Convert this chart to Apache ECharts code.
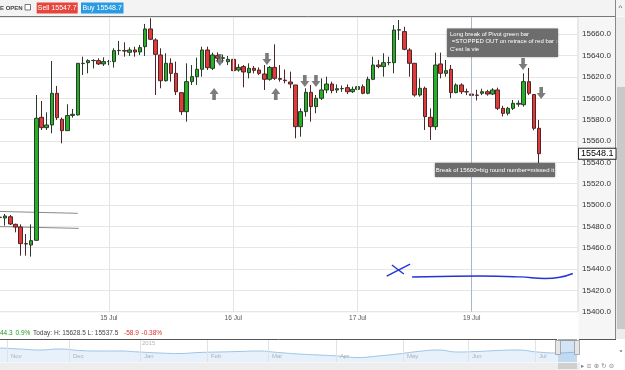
<!DOCTYPE html>
<html><head><meta charset="utf-8">
<script src="https://cdn.jsdelivr.net/npm/echarts/dist/echarts.min.js"></script>
<style>html,body{margin:0;padding:0;background:#fff}#c{width:625px;height:370px}</style>
</head><body><div id="c"></div><script>
// hourly candles (index 0..104)
const open = [15488.5,15487.8,15489.0,15481.9,15479.4,15463.8,15462.5,15466.9,15582.2,15572.5,
15575.0,15604.7,15580.3,15569.7,15584.0,15584.4,15632.5,15633.4,15635.3,15635.3,
15632.2,15634.4,15634.4,15644.7,15644.7,15643.1,15645.3,15643.4,15648.4,15665.0,
15654.7,15640.6,15616.5,15632.8,15623.4,15605.3,15587.5,15615.6,15620.3,15627.2,
15645.3,15628.1,15640.0,15637.5,15634.3,15636.5,15626.5,15629.7,15624.0,15628.1,
15626.5,15622.8,15617.8,15629.0,15618.5,15617.0,15615.3,15612.5,15573.4,15587.5,
15605.6,15592.2,15600.0,15607.8,15613.4,15607.8,15609.0,15610.0,15606.2,15608.4,
15610.9,15604.7,15617.8,15631.2,15629.7,15633.4,15633.4,15664.0,15662.5,15645.3,
15632.8,15603.1,15609.4,15582.2,15573.4,15632.2,15623.4,15627.2,15605.3,15612.5,
15606.2,15604.0,15603.0,15604.7,15606.2,15604.0,15607.8,15590.6,15585.9,15590.6,
15594.5,15594.0,15615.6,15603.5,15571.9];
const close = [15488.4,15489.7,15482.2,15479.4,15463.8,15463.5,15466.6,15581.3,15572.5,15575.0,
15604.7,15581.9,15569.7,15583.8,15585.0,15632.8,15632.8,15635.3,15635.5,15632.2,
15634.4,15634.6,15644.7,15644.9,15644.3,15645.3,15643.4,15647.5,15665.0,15655.3,
15641.2,15616.5,15632.8,15623.4,15606.2,15587.5,15615.6,15620.3,15627.2,15645.3,
15628.7,15640.6,15637.5,15638.0,15636.5,15625.9,15629.0,15624.7,15628.1,15626.2,
15623.4,15617.8,15629.0,15618.7,15617.8,15616.5,15613.4,15573.4,15587.5,15605.6,
15592.2,15600.0,15607.8,15613.4,15607.2,15609.0,15609.2,15606.2,15608.4,15610.9,
15604.7,15617.8,15631.2,15629.7,15633.4,15633.6,15664.0,15664.2,15645.9,15632.8,
15603.1,15609.4,15582.8,15573.4,15631.2,15623.4,15625.9,15605.3,15612.5,15606.2,
15606.0,15602.8,15602.8,15606.2,15604.0,15607.8,15590.6,15585.9,15590.6,15595.3,
15595.3,15615.6,15604.7,15571.9,15548.1];
const low = [15486.5,15480.6,15481.3,15474.4,15452.5,15452.5,15451.6,15466.5,15570.3,15570.3,
15567.2,15579.7,15557.8,15569.7,15581.9,15584.0,15621.9,15623.4,15628.0,15631.2,
15630.3,15631.0,15628.8,15640.6,15639.0,15639.7,15639.0,15640.6,15639.7,15654.7,
15603.1,15609.4,15615.6,15615.6,15603.1,15584.4,15578.1,15612.5,15612.5,15620.3,
15626.5,15626.5,15634.0,15633.5,15631.2,15621.8,15625.0,15610.3,15618.7,15623.4,
15621.8,15607.8,15616.5,15617.2,15615.6,15614.0,15609.4,15562.5,15564.0,15582.8,
15578.1,15586.0,15598.4,15604.7,15604.7,15605.0,15606.0,15604.0,15605.0,15606.0,
15603.8,15603.8,15617.0,15628.1,15620.3,15631.0,15623.4,15654.7,15645.0,15620.3,
15601.5,15601.5,15570.3,15561.0,15570.3,15618.7,15620.3,15600.0,15604.7,15604.0,
15603.0,15601.0,15598.0,15603.0,15602.5,15603.0,15589.0,15583.0,15584.0,15589.0,
15592.0,15592.2,15603.0,15570.0,15537.5];
const high = [15490.0,15491.6,15490.6,15482.5,15481.9,15472.8,15481.9,15603.1,15597.5,15586.9,
15635.0,15611.6,15581.9,15594.4,15590.0,15633.0,15639.0,15636.6,15636.6,15637.5,
15638.4,15636.0,15646.9,15653.8,15652.5,15647.8,15648.4,15650.0,15669.7,15675.0,
15656.2,15646.9,15642.2,15637.5,15634.4,15605.3,15632.8,15631.2,15638.1,15648.4,
15648.4,15642.8,15643.0,15641.0,15639.7,15638.1,15632.0,15631.2,15632.8,15630.3,
15629.0,15631.2,15630.3,15650.6,15631.2,15627.0,15625.0,15612.5,15590.6,15609.4,
15612.5,15603.1,15618.7,15620.3,15615.6,15613.0,15612.0,15613.0,15611.0,15613.4,
15613.0,15620.3,15639.0,15636.0,15642.2,15639.0,15668.7,15673.4,15667.0,15647.0,
15633.0,15618.7,15611.0,15590.6,15642.8,15642.8,15635.9,15631.2,15614.0,15614.0,
15609.0,15605.5,15608.0,15609.0,15608.0,15609.5,15610.0,15593.0,15592.0,15598.4,
15598.0,15623.4,15628.5,15604.0,15579.7];
const slotCount = 112;
const dayLabels = ['15 Jul','16 Jul','17 Jul','19 Jul'];
const dayIndex = [21,45,69,91];
const yTickMin = 15400, yTickMax = 15676.2, yTickStep = 20;
const lastPrice = 15548.1;
// annotation arrows [slot, price]
const arrowsDown = [[42.4,15635.9],[51.5,15636.8],[58.8,15616.2],[60.95,15616.2],[100.9,15632.2],[104.4,15605]];
const arrowsUp = [[41.3,15604],[53.2,15604]];
// hand-drawn trend lines [slot, price]
const trend1 = [[-0.5,15494],[15,15492.2]];
const trend2 = [[-0.5,15479.8],[15.2,15478.1]];
const scribbleX1 = [[74.6,15433.4],[79.1,15444.7]];
const scribbleX2 = [[75.6,15443.8],[77.9,15435.3]];
const scribbleLine = [[79.5,15432.5],[84.9,15433.0],[92.6,15433.4],[100.3,15432.6],[105.1,15431.1],[108,15432.3],[110.5,15435.8]];
// navigator sparkline
const navValues = [16000,15900,15800,15900,15750,15700,15700,15600,15500,15450,15550,15600,15650,15700,15550,15400,15300,15200,15050,15200,15400,15650,15800,15600,15650,15750,15800,15600,15500,15600];
const navMonths = ['Nov','Dec','Jan','Feb','Mar','Apr','May','Jun','Jul'];
const navMonthX = [7,69,140,207,268,336,403,468,535];

const cats = Array.from({length: slotCount}, (_, i) => String(i));
const candles = open.map((o, i) => [o, close[i], low[i], high[i]]);
const dayMap = {}; dayIndex.forEach((d, i) => dayMap[d] = dayLabels[i]);
const FF = '"Liberation Sans", Arial, sans-serif';
const downPath = 'path://M3,0 H7 V6 H10 L5,12 L0,6 H3 Z';
const upPath = 'path://M5,0 L10,6 H7 V12 H3 V6 H0 Z';

const chart = echarts.init(document.getElementById('c'), null, {renderer: 'canvas'});
const graphic = [
  {type:'rect', z:-1, shape:{x:0,y:0,width:625,height:16.5}, style:{fill:'#f3f3f3'}},
  {type:'rect', z:-1, shape:{x:578.5,y:17,width:37,height:322}, style:{fill:'#f6f6f6'}},
  {type:'text', x:0, y:8.5, style:{text:'E OPEN', fill:'#444', fontSize:6, fontWeight:'bold', fontFamily:FF, verticalAlign:'middle'}},
  {type:'rect', shape:{x:25,y:4.5,width:5.5,height:5.5}, style:{fill:'#fff', stroke:'#555', lineWidth:0.8}},
  {type:'rect', shape:{x:36.7,y:2.5,width:41,height:11}, style:{fill:'#e5453b'}},
  {type:'text', x:57.2, y:8.3, style:{text:'Sell 15547.7', fill:'#fff', fontSize:7, fontFamily:FF, align:'center', verticalAlign:'middle'}},
  {type:'rect', shape:{x:81,y:2.5,width:42.5,height:11}, style:{fill:'#2b9be1'}},
  {type:'text', x:102.2, y:8.3, style:{text:'Buy 15548.7', fill:'#fff', fontSize:7, fontFamily:FF, align:'center', verticalAlign:'middle'}},
  {type:'line', shape:{x1:0,y1:16.5,x2:615,y2:16.5}, style:{stroke:'#777', lineWidth:1}},
  {type:'line', shape:{x1:615.5,y1:0,x2:615.5,y2:339}, style:{stroke:'#888', lineWidth:1}},
  {type:'rect', shape:{x:616,y:17,width:9,height:322}, style:{fill:'#ececec'}},
  {type:'rect', shape:{x:617,y:87,width:8,height:242}, style:{fill:'#c9c9c9'}},
  {type:'text', x:620.5, y:8, style:{text:'^', fill:'#555', fontSize:8, fontFamily:FF, align:'center', verticalAlign:'middle'}},
  // annotation boxes
  {type:'rect', z:100, shape:{x:447,y:28.5,width:111,height:28.5}, style:{fill:'#6d6d6d', shadowBlur:2, shadowColor:'rgba(0,0,0,0.4)'}},
  {type:'text', z:101, x:450, y:30.5, style:{text:'Long break of Pivot green bar\n =STOPPED OUT on retrace of red bar :-(\nC\'est la vie', fill:'#fff', fontSize:6, lineHeight:7.5, fontFamily:FF, verticalAlign:'top'}},
  {type:'rect', z:100, shape:{x:435,y:163,width:120,height:14}, style:{fill:'#6d6d6d', shadowBlur:2, shadowColor:'rgba(0,0,0,0.4)'}},
  {type:'text', z:101, x:495, y:170, style:{text:'Break of 15600=big round number=missed it', fill:'#fff', fontSize:6, fontFamily:FF, align:'center', verticalAlign:'middle'}},
  // status row
  {type:'text', x:0, y:333, style:{text:'44.3', fill:'#1f9a1f', fontSize:6.5, fontFamily:FF, verticalAlign:'middle'}},
  {type:'text', x:15.5, y:333, style:{text:'0.9%', fill:'#1f9a1f', fontSize:6.5, fontFamily:FF, verticalAlign:'middle'}},
  {type:'text', x:33, y:333, style:{text:'Today: H: 15628.5 L: 15537.5', fill:'#444', fontSize:6.5, fontFamily:FF, verticalAlign:'middle'}},
  {type:'text', x:124, y:333, style:{text:'-58.9', fill:'#d9302c', fontSize:6.5, fontFamily:FF, verticalAlign:'middle'}},
  {type:'text', x:141.5, y:333, style:{text:'-0.38%', fill:'#d9302c', fontSize:6.5, fontFamily:FF, verticalAlign:'middle'}},
  // navigator frame
  {type:'line', shape:{x1:0,y1:339.5,x2:557,y2:339.5}, style:{stroke:'#555', lineWidth:1}},
  {type:'line', shape:{x1:579,y1:339.5,x2:616,y2:339.5}, style:{stroke:'#555', lineWidth:1}},
  {type:'text', x:142, y:343.5, style:{text:'2015', fill:'#b5b5b5', fontSize:6, fontFamily:FF, verticalAlign:'middle'}},
  {type:'rect', z:10, shape:{x:558,y:340,width:19,height:22}, style:{fill:'rgba(110,165,220,0.3)'}},
  {type:'line', z:10, shape:{x1:558,y1:340,x2:577,y2:340}, style:{stroke:'#555', lineWidth:1}},
  {type:'rect', z:11, shape:{x:555.5,y:340.5,width:5,height:14}, style:{fill:'#e6e6e6', stroke:'#999', lineWidth:0.8}},
  {type:'rect', z:11, shape:{x:574.5,y:340.5,width:5,height:14}, style:{fill:'#e6e6e6', stroke:'#999', lineWidth:0.8}},
  {type:'rect', shape:{x:0,y:362.5,width:580,height:7.5}, style:{fill:'#ededed'}},
  {type:'rect', shape:{x:558,y:363,width:19,height:6}, style:{fill:'#cfcfcf'}},
  {type:'text', x:581, y:366, style:{text:'\u25B8 \u2261 \u2295 \u21BB \u2296', fill:'#888', fontSize:6.5, fontFamily:'DejaVu Sans', verticalAlign:'middle'}},
  {type:'text', x:621, y:355, style:{text:'\u02C5', fill:'#444', fontSize:9, fontFamily:'DejaVu Sans', align:'center', verticalAlign:'middle'}}
];
navMonths.forEach((m, i) => {
  graphic.push({type:'line', z:5, shape:{x1:navMonthX[i]+0.5,y1:340,x2:navMonthX[i]+0.5,y2:362}, style:{stroke:'#e2e2e2', lineWidth:1}});
  graphic.push({type:'text', z:5, x:navMonthX[i]+4, y:356.5, style:{text:m, fill:'#b0b0b0', fontSize:6, fontFamily:FF, verticalAlign:'middle'}});
});

const scribbleStyle = {color:'#2233d8', width:1.4};
chart.setOption({
  animation: false,
  backgroundColor: '#ffffff',
  grid: [
    {left:-2.6, right:47, top:17, bottom:58.3, show:true, borderColor:'#d4d4d4', borderWidth:1, containLabel:false, outerBoundsMode:'none'},
    {left:0, right:48, top:340, height:22, containLabel:false, outerBoundsMode:'none'}
  ],
  xAxis: [
    {type:'category', gridIndex:0, data:cats, boundaryGap:true,
     axisLine:{show:false}, axisTick:{show:false}, splitLine:{show:false},
     axisLabel:{interval:0, margin:3, fontSize:6.5, color:'#555', fontFamily:FF, formatter:(v, i) => dayMap[i] || ''}},
    {type:'value', gridIndex:0, min:-0.5, max:slotCount-0.5, show:false},
    {type:'category', gridIndex:1, data:navValues.map((_, i) => String(i)), boundaryGap:false, show:false}
  ],
  yAxis: [
    {type:'value', gridIndex:0, position:'right', min:yTickMin, max:yTickMax, interval:yTickStep,
     axisLine:{show:false}, axisTick:{show:false},
     splitLine:{show:true, lineStyle:{color:'#e6e6e6', width:1}},
     axisLabel:{margin:4, fontSize:8, color:'#333', fontFamily:FF, showMaxLabel:false, formatter:v => v.toFixed(1)}},
    {type:'value', gridIndex:1, min:14600, max:16800, show:false}
  ],
  series: [
    {type:'line', xAxisIndex:1, yAxisIndex:0, data:trend1, symbol:'none', z:1, lineStyle:{color:'#8a8a8a', width:1},
     markLine:{silent:true, symbol:'none', label:{show:false},
       data: dayIndex.map((d, i) => ({xAxis:d, lineStyle:{type:'solid', width:1, color: i===3 ? '#a9b7c7' : '#e3e3e3'}}))}},
    {type:'line', xAxisIndex:1, yAxisIndex:0, data:trend2, symbol:'none', z:1, lineStyle:{color:'#8a8a8a', width:1}},
    {type:'candlestick', xAxisIndex:0, yAxisIndex:0, data:candles, barWidth:4, z:3,
     itemStyle:{color:'#25b025', color0:'#e2393d', borderColor:'#2b3b2b', borderColor0:'#4d2626', borderWidth:1}},
    {type:'line', xAxisIndex:1, yAxisIndex:0, data:[[slotCount-0.5, lastPrice]], symbol:'none', z:20,
     lineStyle:{width:0},
     markPoint:{silent:true, symbol:'rect', symbolSize:[0,0],
       data:[{coord:[slotCount-0.5, lastPrice],
         label:{show:true, position:'right', distance:1, formatter:lastPrice.toFixed(1), color:'#000', fontSize:9, fontFamily:FF,
                backgroundColor:'#fff', borderColor:'#222', borderWidth:1, padding:[1,2,0,2]}}]}},
    {type:'scatter', xAxisIndex:1, yAxisIndex:0, data:arrowsDown, symbol:downPath, symbolSize:[9,12], z:5,
     itemStyle:{color:'#5b5b5b'}},
    {type:'scatter', xAxisIndex:1, yAxisIndex:0, data:arrowsUp, symbol:upPath, symbolSize:[9,12], z:5,
     itemStyle:{color:'#5b5b5b'}},
    {type:'line', xAxisIndex:1, yAxisIndex:0, data:scribbleX1, symbol:'none', z:6, lineStyle:scribbleStyle},
    {type:'line', xAxisIndex:1, yAxisIndex:0, data:scribbleX2, symbol:'none', z:6, lineStyle:scribbleStyle},
    {type:'line', xAxisIndex:1, yAxisIndex:0, data:scribbleLine, symbol:'none', smooth:true, z:6, lineStyle:scribbleStyle},
    {type:'line', xAxisIndex:2, yAxisIndex:1, data:navValues, symbol:'none', smooth:true, z:2,
     lineStyle:{color:'#9cc3e6', width:1}, areaStyle:{color:'#e7f1fb', opacity:1}}
  ],
  graphic: graphic
});
</script></body></html>
